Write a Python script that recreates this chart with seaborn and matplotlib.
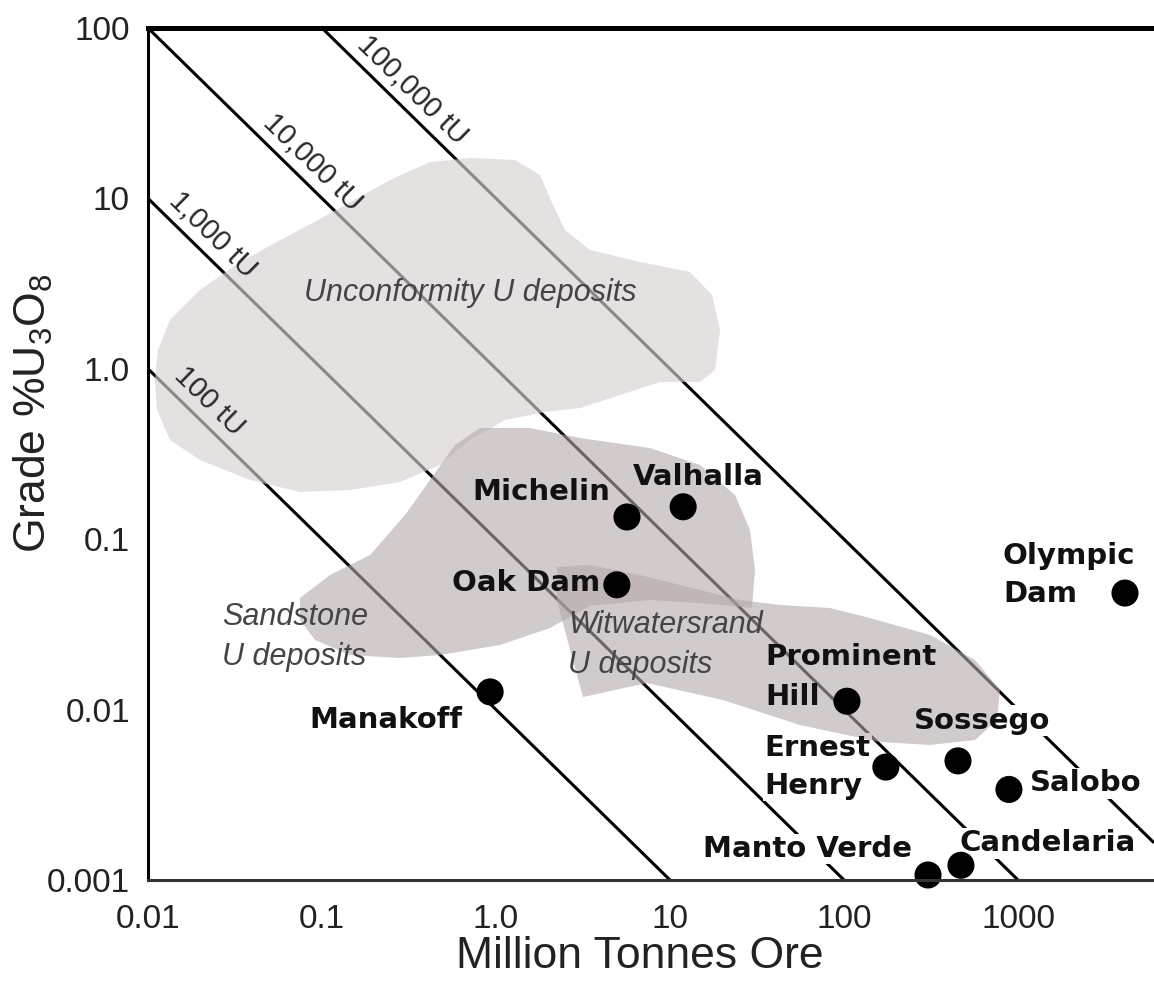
import numpy as np
import pandas as pd
import matplotlib
matplotlib.use("Agg")
import matplotlib.pyplot as plt
import seaborn as sns

# ---------------- data ----------------
deposit_names = ["Michelin", "Valhalla", "Oak Dam", "Manakoff", "Prominent Hill",
                 "Ernest Henry", "Sossego", "Salobo", "Candelaria", "Manto Verde",
                 "Olympic Dam"]
ore_mt = [5.66, 11.9, 4.95, 0.925, 104, 174, 452, 887, 470, 304, 4120]
grade_pct = [0.135, 0.155, 0.054, 0.0127, 0.0112, 0.0046, 0.0050, 0.0034,
             0.00122, 0.00107, 0.0483]

unconformity_mt = [0.01141, 0.01338, 0.0199, 0.03379, 0.06549, 0.1269, 0.2459, 0.4175,
                   0.7088, 1.286, 1.790, 2.126, 2.492, 3.47, 6.725, 13.03, 17.44, 19.39,
                   18.14, 14.87, 8.76, 5.16, 3.04, 1.912, 1.126, 0.7088, 0.4767, 0.2808,
                   0.1448, 0.0747, 0.03857, 0.0199, 0.01338, 0.01126, 0.01097]
unconformity_grade = [1.289, 1.934, 2.90, 4.234, 6.099, 8.784, 12.82, 16.35,
                      17.26, 16.80, 13.72, 9.15, 6.525, 4.981, 4.234, 3.70, 2.711, 1.689,
                      0.984, 0.8366, 0.8366, 0.702, 0.5888, 0.5579, 0.5006, 0.3822, 0.2725,
                      0.2166, 0.1944, 0.1892, 0.2226, 0.2916, 0.3822, 0.5731, 0.8597]

sandstone_mt = [0.0747, 0.1112, 0.1888, 0.30, 0.4175, 0.5814, 0.809, 1.569, 3.04, 7.675,
                14.87, 23.64, 28.83, 30.8, 29.6, 14.87, 7.675, 3.47, 2.043, 1.054,
                0.4767, 0.2808, 0.1448, 0.0912, 0.0747]
sandstone_grade = [0.04518, 0.06165, 0.08077, 0.1387, 0.2226, 0.357, 0.4494, 0.4494,
                   0.3926, 0.3429, 0.2725, 0.1817, 0.1132, 0.0659, 0.03947, 0.04222,
                   0.04397, 0.04055, 0.03013, 0.02394, 0.02091, 0.02008, 0.02091,
                   0.02562, 0.03355]

witwatersrand_mt = [2.242, 3.47, 6.725, 14.87, 25.26, 42.87, 83.1, 141.1, 312.2, 566.2,
                    788, 757.6, 566.2, 312.2, 161, 55.9, 20.16, 7.376, 3.162, 2.664, 2.242]
witwatersrand_grade = [0.06869, 0.07059, 0.06165, 0.05033, 0.04397, 0.04111, 0.03947,
                       0.03448, 0.02741, 0.01954, 0.01303, 0.00869, 0.00663, 0.0062,
                       0.00645, 0.00812, 0.01138, 0.01432, 0.01185, 0.02237, 0.04397]

tonnage_levels = [100, 1000, 10000, 100000]
tonnage_labels = ["100 tU", "1,000 tU", "10,000 tU", "100,000 tU"]

x_ticks = [0.01, 0.1, 1, 10, 100, 1000]
x_ticklabels = ["0.01", "0.1", "1.0", "10", "100", "1000"]
y_ticks = [0.001, 0.01, 0.1, 1, 10, 100]
y_ticklabels = ["0.001", "0.01", "0.1", "1.0", "10", "100"]

# ---------------- layout / style ----------------
W, H = 1154, 992
AX_L, AX_R, AX_T, AX_B = 148, 1154, 28, 880
XLIM = (0.01, 10 ** (-2 + (AX_R - AX_L) / 174.0))
YLIM = (0.001, 100)

# label text, dx, dy (pixels), ha, white background
label_layout = {
    "Michelin": ("Michelin", -17, 25, "right", False),
    "Valhalla": ("Valhalla", 15, 30, "center", False),
    "Oak Dam": ("Oak Dam", -17, 2, "right", False),
    "Manakoff": ("Manakoff", -28, -28, "right", True),
    "Prominent Hill": ("Prominent\nHill", -82, 24, "left", False),
    "Ernest Henry": ("Ernest\nHenry", -121, 0, "left", True),
    "Sossego": ("Sossego", 24, 40, "center", True),
    "Salobo": ("Salobo", 21, 6, "left", True),
    "Candelaria": ("Candelaria", -1, 22, "left", True),
    "Manto Verde": ("Manto Verde", -16, 26, "right", True),
    "Olympic Dam": ("Olympic\nDam", -122, 18, "left", True),
}
tonnage_label_x = [0.0125, 0.0117, 0.0408, 0.142]

sns.set_style("white")
plt.rcParams["font.family"] = ["Liberation Sans", "DejaVu Sans"]
plt.rcParams["mathtext.fontset"] = "custom"
plt.rcParams["mathtext.rm"] = "Liberation Sans"
plt.rcParams["mathtext.it"] = "Liberation Sans:italic"

fig = plt.figure(figsize=(W / 100, H / 100), dpi=100)
ax = fig.add_axes([AX_L / W, 1 - AX_B / H, (AX_R - AX_L) / W, (AX_B - AX_T) / H])
ax.set_xscale("log")
ax.set_yscale("log")
ax.set_xlim(*XLIM)
ax.set_ylim(*YLIM)

# iso-tonnage lines
for t in tonnage_levels:
    xs = np.array(XLIM)
    ax.plot(xs, t / (1e4 * xs), color="black", lw=2.2, zorder=2, solid_capstyle="butt")

# tonnage labels along lines
for t, lab, x0 in zip(tonnage_levels, tonnage_labels, tonnage_label_x):
    p1 = ax.transData.transform((x0, t / (1e4 * x0)))
    p2 = ax.transData.transform((x0 * 10, t / (1e5 * x0)))
    ang = np.arctan2(p2[1] - p1[1], p2[0] - p1[0])
    gap = 11
    off = (-np.sin(ang) * gap, np.cos(ang) * gap)
    ax.annotate(lab, xy=(x0, t / (1e4 * x0)), xytext=off, textcoords="offset pixels",
                rotation=np.degrees(ang), rotation_mode="anchor", ha="left", va="baseline",
                fontsize=21, color="#2a2a2a", zorder=6)

# white backing boxes for labels outside the fields (under the shaded fields)
for name, x, y in zip(deposit_names, ore_mt, grade_pct):
    text, dx, dy, ha, boxed = label_layout[name]
    if boxed:
        ax.annotate(text, xy=(x, y), xytext=(dx, dy), textcoords="offset pixels",
                    ha=ha, va="center", fontsize=21, fontweight="bold",
                    family="DejaVu Sans", color="white", linespacing=1.45,
                    bbox=dict(boxstyle="square,pad=0.05", fc="white", ec="none"),
                    zorder=3, annotation_clip=False)

# shaded deposit fields
ax.fill(unconformity_mt, unconformity_grade, fc="#d7d1d1", alpha=0.65, ec="none", zorder=4)
ax.fill(sandstone_mt, sandstone_grade, fc="#b4a9a9", alpha=0.6, ec="none", zorder=4)
ax.fill(witwatersrand_mt, witwatersrand_grade, fc="#b4a9a9", alpha=0.6, ec="none", zorder=4)

# field labels
ax.text(0.709, 2.785, "Unconformity U deposits", style="italic", fontsize=22,
        color="#444444", ha="center", va="center", zorder=6)
ax.text(0.02662, 0.02667, "Sandstone\nU deposits", style="italic", fontsize=22,
        color="#444444", ha="left", va="center", linespacing=1.45, zorder=6)
ax.text(2.593, 0.02394, "Witwatersrand\nU deposits", style="italic", fontsize=22,
        color="#444444", ha="left", va="center", linespacing=1.45, zorder=6)

# deposits
df = pd.DataFrame({"deposit": deposit_names, "ore": ore_mt, "grade": grade_pct})
sns.scatterplot(data=df, x="ore", y="grade", s=380, color="black", edgecolor="none",
                zorder=7, ax=ax, legend=False, clip_on=False)

for name, x, y in zip(deposit_names, ore_mt, grade_pct):
    text, dx, dy, ha, boxed = label_layout[name]
    lsp = 1.55 if name == "Prominent Hill" else 1.45
    ax.annotate(text, xy=(x, y), xytext=(dx, dy), textcoords="offset pixels",
                ha=ha, va="center", fontsize=21, fontweight="bold",
                family="DejaVu Sans", color="#111111", linespacing=lsp,
                zorder=8, annotation_clip=False)

# axes styling
ax.set_xticks(x_ticks)
ax.set_xticklabels(x_ticklabels)
ax.set_yticks(y_ticks)
ax.set_yticklabels(y_ticklabels)
ax.minorticks_off()
ax.tick_params(axis="both", length=0, labelsize=24, labelcolor="#222222")
ax.tick_params(axis="x", pad=17)
ax.tick_params(axis="y", pad=13)

ax.set_xlabel("Million Tonnes Ore", fontsize=32, color="#222222")
ax.set_ylabel("Grade %U$_3$O$_8$", fontsize=32, color="#222222")
ax.xaxis.set_label_coords(0.489, -0.066)
ax.yaxis.set_label_coords(-0.092, 0.5475)

for side in ["left", "bottom", "top", "right"]:
    ax.spines[side].set_zorder(10)
ax.spines["left"].set_linewidth(2.2)
ax.spines["left"].set_color("black")
ax.spines["bottom"].set_linewidth(2.2)
ax.spines["bottom"].set_color("#333333")
ax.spines["top"].set_linewidth(3.6)
ax.spines["top"].set_color("black")
ax.spines["right"].set_visible(False)
ax.set_facecolor("white")

fig.savefig("out.png", dpi=100, facecolor="white")
